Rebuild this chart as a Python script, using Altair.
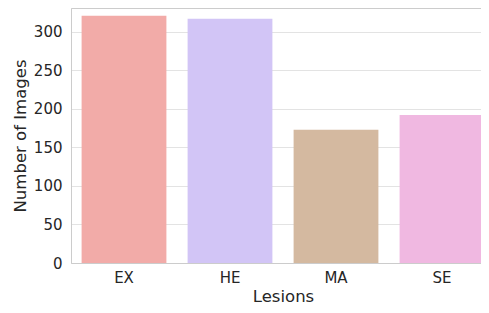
import altair as alt
import pandas as pd

lesions = ["EX", "HE", "MA", "SE"]
counts = [321, 317, 173, 192]
colors = ["#f2aba8", "#d2c5f6", "#d4b9a0", "#f0b8e1"]

df = pd.DataFrame({"Lesions": lesions, "Count": counts})

chart = alt.Chart(df).mark_bar().encode(
    x=alt.X("Lesions:N", sort=lesions,
            scale=alt.Scale(paddingInner=0.2, paddingOuter=0.1),
            axis=alt.Axis(title="Lesions", labelAngle=0, ticks=False, domain=True,
                          domainColor="#cccccc", grid=False, labelPadding=7,
                          titlePadding=3)),
    y=alt.Y("Count:Q", scale=alt.Scale(domain=[0, 331], nice=False),
            axis=alt.Axis(title="Number of Images", values=[0, 50, 100, 150, 200, 250, 300],
                          ticks=False, domain=True, domainColor="#cccccc",
                          gridColor="#e3e3e3", labelPadding=9, titlePadding=5)),
    color=alt.Color("Lesions:N", scale=alt.Scale(domain=lesions, range=colors), legend=None),
).properties(
    width=424, height=255,
    autosize=alt.AutoSizeParams(type="none"),
    padding={"left": 63, "top": 0, "right": -14, "bottom": 42},
).configure_view(
    stroke="#cccccc", strokeWidth=1
).configure_axis(
    labelFont="DejaVu Sans", titleFont="DejaVu Sans",
    labelFontSize=15, titleFontSize=16.5, labelColor="#262626", titleColor="#262626",
    titleFontWeight="normal",
)

chart.save("out.html", embed_options={"renderer": "svg", "actions": False})
